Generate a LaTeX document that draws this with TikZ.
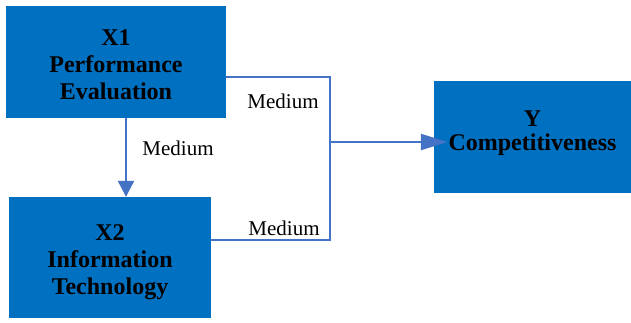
\documentclass[tikz,border=0pt]{standalone}
\usepackage{fontspec}
\setmainfont{Liberation Serif}
\usetikzlibrary{arrows.meta, positioning}
\definecolor{boxblue}{HTML}{0070C0}
\definecolor{lineblue}{HTML}{4472C4}
\tikzset{
    varbox/.style = {rectangle, fill=boxblue, inner sep=0pt},
    boxtext/.style = {text=black, align=center, inner sep=0pt,
        font=\fontsize{24}{27}\selectfont\bfseries},
    link/.style = {draw=lineblue, line width=2.2pt},
    arrow/.style = {link, -{Triangle[length=16pt,width=16pt]}},
    lbl/.style = {font=\fontsize{21}{24}\selectfont, inner sep=0pt}
}

\begin{document}
\begin{tikzpicture}[x=1pt, y=-1pt]
\useasboundingbox (0,0) rectangle (631,322);

\node (x1) [varbox, minimum width=220pt, minimum height=112pt,
    label={[boxtext, yshift=-3pt]center:X1\\Performance\\Evaluation}] at (116,62) {};
\node (x2) [varbox, minimum width=202pt, minimum height=121pt,
    label={[boxtext, yshift=-5pt]center:X2\\Information\\Technology}] at (110,257.5) {};
\node (y) [varbox, minimum width=197pt, minimum height=112pt,
    label={[boxtext, yshift=4pt, font=\fontsize{24}{24}\selectfont\bfseries]center:Y\\Competitiveness}] at (532.5,137) {};
\coordinate (join) at (330,142);

% Links
\draw [link] ([yshift=-15pt]x1.east) -| (join);
\draw [link] ([yshift=17.5pt]x2.east) -| (join);
\draw [link, -{Triangle[length=27pt,width=16pt]}] (join) -- ([xshift=14pt]join -| y.west);
\draw [arrow] ([xshift=10pt]x1.south) -- ([xshift=10pt]x1.south |- x2.north);

% Labels
\node (m1) [lbl] at (283,101) {Medium};
\node (m2) [lbl] at (178,148) {Medium};
\node (m3) [lbl] at (284,228) {Medium};

\end{tikzpicture}
\end{document}
